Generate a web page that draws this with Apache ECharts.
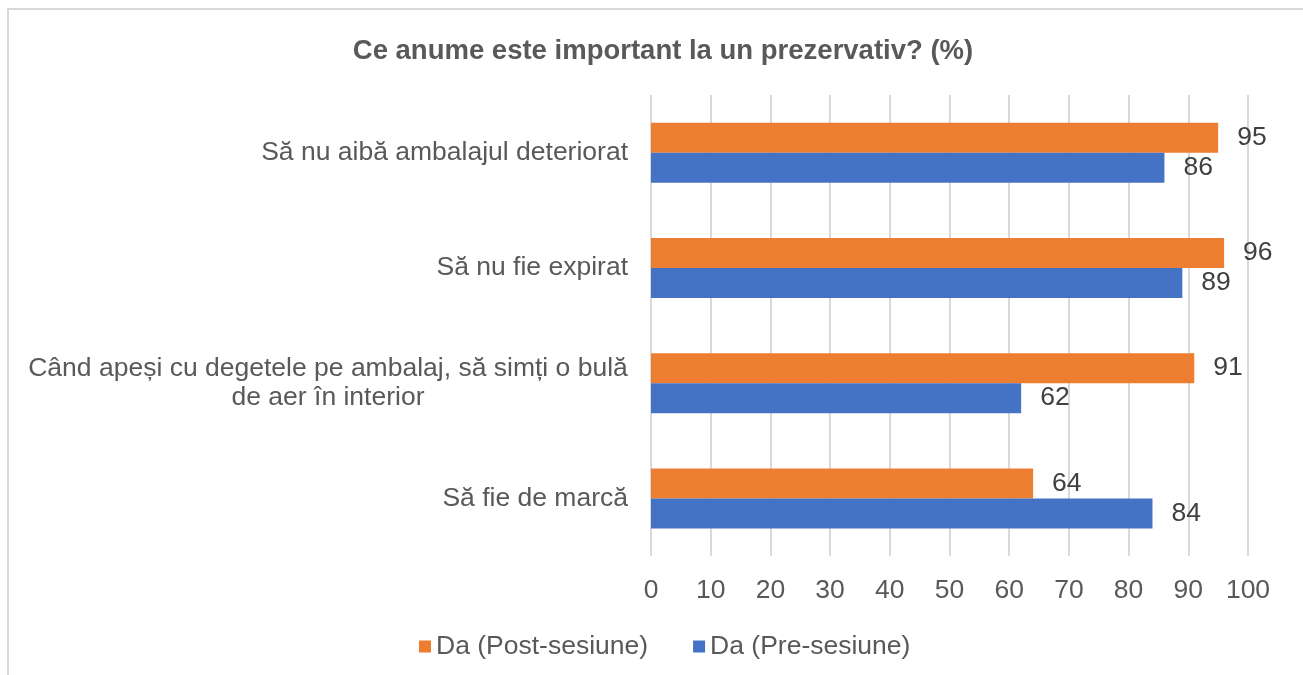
<!DOCTYPE html>
<html>
<head>
<meta charset="utf-8">
<script src="https://cdn.jsdelivr.net/npm/echarts@6/dist/echarts.min.js"></script>
<style>
html,body{margin:0;padding:0;background:#fff;}
#c{width:1303px;height:675px;}
</style>
</head>
<body>
<div id="c"></div>
<script>
const categories = [
  "Să nu aibă ambalajul deteriorat",
  "Să nu fie expirat",
  "Când apeși cu degetele pe ambalaj, să simți o bulă\nde aer în interior",
  "Să fie de marcă"
];
const postValues = [95, 96, 91, 64];
const preValues = [86, 89, 62, 84];
const seriesNames = ["Da (Post-sesiune)", "Da (Pre-sesiune)"];
const titleText = "Ce anume este important la un prezervativ? (%)";

const FONT = "Liberation Sans, Arial, sans-serif";
const FS = 26.5;
function measure(t) {
  const ctx = document.createElement('canvas').getContext('2d');
  ctx.font = FS + 'px ' + FONT;
  return Math.ceil(ctx.measureText(t).width);
}
const chart = echarts.init(document.getElementById('c'));
chart.setOption({
  animation: false,
  backgroundColor: '#fff',
  graphic: [{
    type: 'rect',
    shape: {x: 8, y: 9, width: 1400, height: 800},
    style: {fill: 'none', stroke: '#d9d9d9', lineWidth: 2},
    silent: true
  }],
  title: {
    text: titleText,
    left: 658,
    textAlign: 'center',
    top: 32,
    textStyle: {fontFamily: FONT, fontSize: 27.5, fontWeight: 'bold', color: '#595959'}
  },
  legend: {
    data: seriesNames,
    left: 414,
    top: 628,
    itemWidth: 12,
    itemHeight: 12,
    itemGap: 45,
    icon: 'rect',
    textStyle: {fontFamily: FONT, fontSize: FS, color: '#595959'}
  },
  grid: {left: 651, right: 55, top: 95, bottom: 119, containLabel: false},
  xAxis: {
    type: 'value',
    min: 0, max: 100, interval: 10,
    axisLine: {show: false},
    axisTick: {show: false},
    splitLine: {lineStyle: {color: '#d9d9d9', width: 2}},
    axisLabel: {fontFamily: FONT, fontSize: FS, color: '#595959', margin: 21}
  },
  yAxis: {
    type: 'category',
    data: categories,
    inverse: true,
    axisLine: {show: false},
    axisTick: {show: false},
    axisLabel: {
      fontFamily: FONT, fontSize: FS, color: '#595959', margin: 23, lineHeight: 29,
      formatter: function (v) {
        if (v.indexOf('\n') >= 0) return '{w|' + v + '}';
        return v;
      },
      rich: {w: {fontFamily: FONT, fontSize: FS, color: '#595959', lineHeight: 29,
        width: measure(categories[2].split('\n')[0]), align: 'center'}}
    }
  },
  series: [
    {
      name: seriesNames[0], type: 'bar', data: postValues,
      itemStyle: {color: '#ED7D31'},
      barWidth: 30, barGap: '0%',
      label: {show: true, position: 'right', distance: 19, fontFamily: FONT, fontSize: FS, color: '#404040'}
    },
    {
      name: seriesNames[1], type: 'bar', data: preValues,
      itemStyle: {color: '#4472C4'},
      barWidth: 30, barGap: '0%',
      label: {show: true, position: 'right', distance: 19, fontFamily: FONT, fontSize: FS, color: '#404040'}
    }
  ]
});
</script>
</body>
</html>
